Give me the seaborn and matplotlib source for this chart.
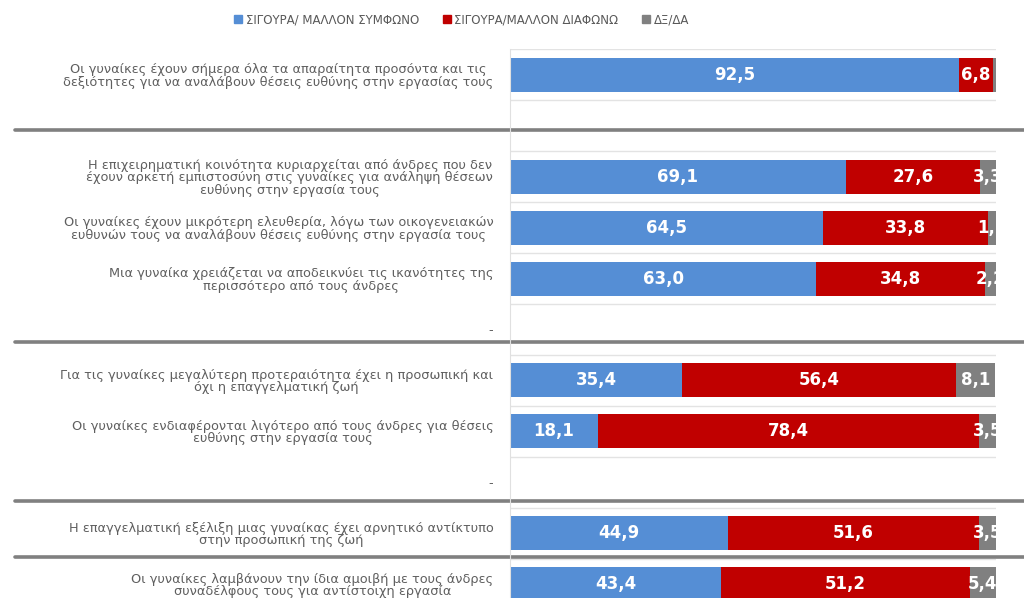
import numpy as np
import pandas as pd
import seaborn as sns
import matplotlib.pyplot as plt
from matplotlib.lines import Line2D
from matplotlib.patches import Patch
from matplotlib.transforms import blended_transform_factory

statements = [
    "Οι γυναίκες έχουν σήμερα όλα τα απαραίτητα προσόντα και τις\n"
    "δεξιότητες για να αναλάβουν θέσεις ευθύνης στην εργασίας τους",
    "",
    "Η επιχειρηματική κοινότητα κυριαρχείται από άνδρες που δεν\n"
    "έχουν αρκετή εμπιστοσύνη στις γυναίκες για ανάληψη θέσεων\n"
    "ευθύνης στην εργασία τους",
    "Οι γυναίκες έχουν μικρότερη ελευθερία, λόγω των οικογενειακών\n"
    "ευθυνών τους να αναλάβουν θέσεις ευθύνης στην εργασία τους",
    "Μια γυναίκα χρειάζεται να αποδεικνύει τις ικανότητες της\n"
    "περισσότερο από τους άνδρες",
    "-",
    "Για τις γυναίκες μεγαλύτερη προτεραιότητα έχει η προσωπική και\n"
    "όχι η επαγγελματική ζωή",
    "Οι γυναίκες ενδιαφέρονται λιγότερο από τους άνδρες για θέσεις\n"
    "ευθύνης στην εργασία τους",
    "-",
    "Η επαγγελματική εξέλιξη μιας γυναίκας έχει αρνητικό αντίκτυπο\n"
    "στην προσωπική της ζωή",
    "Οι γυναίκες λαμβάνουν την ίδια αμοιβή με τους άνδρες\n"
    "συναδέλφους τους για αντίστοιχη εργασία",
]

agree = [92.5, np.nan, 69.1, 64.5, 63.0, np.nan, 35.4, 18.1, np.nan, 44.9, 43.4]
disagree = [6.8, np.nan, 27.6, 33.8, 34.8, np.nan, 56.4, 78.4, np.nan, 51.6, 51.2]
dkna = [0.7, np.nan, 3.3, 1.7, 2.2, np.nan, 8.1, 3.5, np.nan, 3.5, 5.4]

series_names = ["ΣΙΓΟΥΡΑ/ ΜΑΛΛΟΝ ΣΥΜΦΩΝΟ", "ΣΙΓΟΥΡΑ/ΜΑΛΛΟΝ ΔΙΑΦΩΝΩ", "ΔΞ/ΔΑ"]
colors = ["#558ED5", "#C00000", "#808080"]

# separator lines between statement groups (y in row units)
separators = [1.08, 5.25, 8.37, 9.47]

df = pd.DataFrame({"row": range(len(statements)), "agree": agree,
                   "disagree": disagree, "dkna": dkna})
df["cum1"] = df["agree"]
df["cum2"] = df["agree"] + df["disagree"]
df["cum3"] = df["cum2"] + df["dkna"]

sns.set_style("white")
plt.rcParams["font.family"] = ["DejaVu Sans"]

fig = plt.figure(figsize=(10.24, 5.98), dpi=100)
ax = fig.add_axes([0.498, -0.0192, 0.4746, 0.9365])

order = list(range(len(statements)))
# stacked bars: draw the cumulative totals from the back to the front
for col, c in zip(["cum3", "cum2", "cum1"], colors[::-1]):
    sns.barplot(data=df, x=col, y="row", order=order, orient="h", color=c,
                width=0.67, errorbar=None, saturation=1, linewidth=0, ax=ax)

ax.set_xlim(0, 100)
ax.set_ylim(len(statements) - 0.5, -0.5)
ax.set_xlabel("")
ax.set_ylabel("")
ax.set_xticks([])
ax.set_yticks(order)
ax.set_yticklabels(statements, fontsize=9.3, color="#5f5f5f",
                   multialignment="center", linespacing=0.95)
ax.tick_params(axis="y", length=0, pad=12)
ax.set_yticks(np.arange(-0.5, len(statements), 1), minor=True)
ax.tick_params(axis="y", which="minor", length=0)
ax.grid(axis="y", which="minor", color="#e3e3e3", linewidth=1)
ax.grid(axis="y", which="major", visible=False)
for s in ["top", "right", "bottom"]:
    ax.spines[s].set_visible(False)
ax.spines["left"].set_color("#e0e0e0")

# value labels (tiny segments under 1% get none)
for i in range(len(statements)):
    if np.isnan(agree[i]):
        continue
    starts = [0, agree[i], agree[i] + disagree[i]]
    vals = [agree[i], disagree[i], dkna[i]]
    for s, v in zip(starts, vals):
        if v < 1:
            continue
        ax.text(s + v / 2, i, f"{v:.1f}".replace(".", ","), ha="center",
                va="center", color="white", fontsize=12, fontweight="bold",
                clip_on=True)

# group separators across the whole width
tr = blended_transform_factory(fig.transFigure, ax.transData)
for y in separators:
    ax.add_line(Line2D([0.015, 1.0], [y, y], transform=tr, color="#808080",
                       linewidth=2.6, clip_on=False))

handles = [Patch(color=c) for c in colors]
fig.legend(handles, series_names, loc="center left", bbox_to_anchor=(0.218, 0.967),
           ncol=3, frameon=False, fontsize=8.5, labelcolor="#595959",
           handlelength=0.7, handleheight=0.7, handletextpad=0.3,
           columnspacing=2.0)

fig.savefig("out.png", dpi=100)
